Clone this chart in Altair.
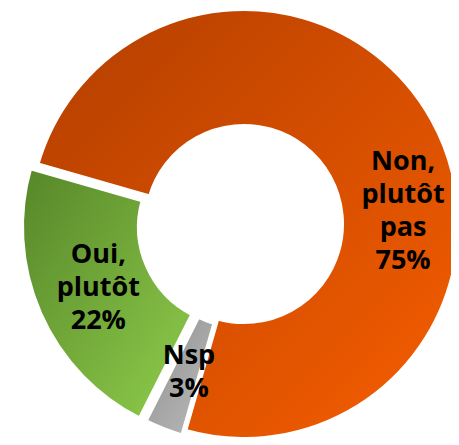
import math
import altair as alt
import pandas as pd

categories = ["Non, plutôt pas", "Nsp", "Oui, plutôt"]
values = [75, 3, 22]
labels = ["Non,\nplutôt\npas\n75%", "Nsp\n3%", "Oui,\nplutôt\n22%"]

df = pd.DataFrame({"cat": categories, "value": values, "label": labels})
df["end"] = df["value"].cumsum()
df["start"] = df["end"] - df["value"]
df["mid"] = (df["start"] + df["end"]) / 2
total = float(sum(values))

start_angle = math.radians(286)
theta_scale = alt.Scale(domain=[0, total], range=[start_angle, start_angle + 2 * math.pi])

CX, CY = 236, 216
LH = 33


def grad(c0, c1):
    return alt.LinearGradient(
        gradient="linear",
        x1=0, y1=0, x2=1, y2=1,
        stops=[alt.GradientStop(color=c0, offset=0), alt.GradientStop(color=c1, offset=1)],
    )


styles = {
    "Non, plutôt pas": dict(fill=grad("#B23E00", "#F75E00"), off=(0, 0), tdx=20, tdy=65),
    "Nsp": dict(fill=grad("#8E8E8E", "#BDBDBD"), off=(-2, 5), tdx=3, tdy=0),
    "Oui, plutôt": dict(fill=grad("#568629", "#90CE4C"), off=(-7, 3), tdx=0, tdy=0),
}

base = alt.Chart(df)
layers = []
for cat in categories:
    s = styles[cat]
    cx, cy = CX + s["off"][0], CY + s["off"][1]
    arc = (
        base.transform_filter(alt.datum.cat == cat)
        .mark_arc(innerRadius=97.5, outerRadius=215.5, stroke="white", strokeWidth=5, fill=s["fill"])
        .encode(
            theta=alt.Theta("start:Q", scale=theta_scale),
            theta2="end:Q",
            x=alt.value(cx),
            y=alt.value(cy),
        )
    )
    layers.append(arc)

for cat, lab in zip(categories, labels):
    s = styles[cat]
    nlines = lab.count("\n") + 1
    txt = (
        base.transform_filter(alt.datum.cat == cat)
        .mark_text(
            font="Open Sans", fontWeight="bold", fontSize=27, lineBreak="\n", lineHeight=LH,
            align="center", baseline="middle", color="black",
            dx=s["tdx"], dy=s["tdy"] - (nlines - 1) * LH / 2,
        )
        .encode(
            theta=alt.Theta("mid:Q", scale=theta_scale),
            radius=alt.value(159),
            text="label:N",
            x=alt.value(CX),
            y=alt.value(CY),
        )
    )
    layers.append(txt)

chart = (
    alt.layer(*layers)
    .properties(width=443, height=429, autosize=alt.AutoSizeParams(type="none"), padding=0)
    .configure_view(stroke=None)
)

chart.save("out.html", embed_options={"renderer": "svg", "actions": False})
